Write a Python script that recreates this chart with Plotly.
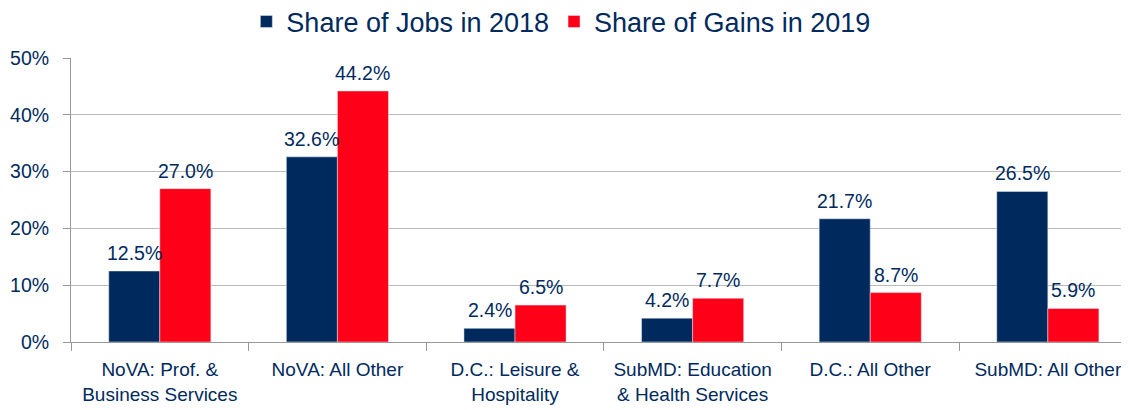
import plotly.graph_objects as go

categories = ["NoVA: Prof. &<br>Business Services", "NoVA: All Other",
              "D.C.: Leisure &<br>Hospitality", "SubMD: Education<br>& Health Services",
              "D.C.: All Other", "SubMD: All Other"]
jobs_2018 = [12.5, 32.6, 2.4, 4.2, 21.7, 26.5]
gains_2019 = [27.0, 44.2, 6.5, 7.7, 8.7, 5.9]
y_ticks = [0, 10, 20, 30, 40, 50]

NAVY = "#002A5E"
RED = "#FF0019"
FONT = "Liberation Sans, Arial, sans-serif"
FS = 19

fig = go.Figure()
fig.add_trace(go.Bar(name="Share of Jobs in 2018", x=categories, y=jobs_2018,
                     marker_color=NAVY))
fig.add_trace(go.Bar(name="Share of Gains in 2019", x=categories, y=gains_2019,
                     marker_color=RED))

for series, shift in ((jobs_2018, -25.5), (gains_2019, 25.5)):
    for cat, v in zip(categories, series):
        fig.add_annotation(x=cat, y=v, text=f"{v:.1f}%", showarrow=False,
                           xshift=shift, yshift=5, yanchor="bottom",
                           font=dict(size=19.5, color=NAVY, family=FONT))

fig.update_layout(
    width=1121, height=402,
    margin=dict(l=63, r=0, t=50, b=68, autoexpand=False),
    paper_bgcolor="white", plot_bgcolor="white",
    barmode="group", bargap=0.425, bargroupgap=0,
    font=dict(family=FONT, color=NAVY, size=FS),
    legend=dict(orientation="h", x=0.463, xanchor="center", y=1.127, yanchor="middle",
                yref="paper", font=dict(size=27, color=NAVY, family=FONT),
                traceorder="normal", itemwidth=30),
    showlegend=True,
)
fig.update_xaxes(range=[-0.5, 5.457], tickson="boundaries", ticks="outside", ticklen=8,
                 tickcolor="#999999", showline=True, linecolor="#999999", linewidth=1,
                 tickfont=dict(size=FS, color=NAVY, family=FONT), showgrid=False,
                 tickangle=0, automargin=False, ticklabelstandoff=10)
fig.update_yaxes(range=[0, 50], tickvals=y_ticks, ticktext=[f"{v}%" for v in y_ticks],
                 showgrid=True, gridcolor="#BBBBBB", gridwidth=1,
                 showline=True, linecolor="#999999", linewidth=1,
                 ticks="outside", ticklen=7, tickcolor="#999999",
                 tickfont=dict(size=19.5, color=NAVY, family=FONT), zeroline=False,
                 automargin=False, ticklabelstandoff=10)

fig.write_html("out.html")
